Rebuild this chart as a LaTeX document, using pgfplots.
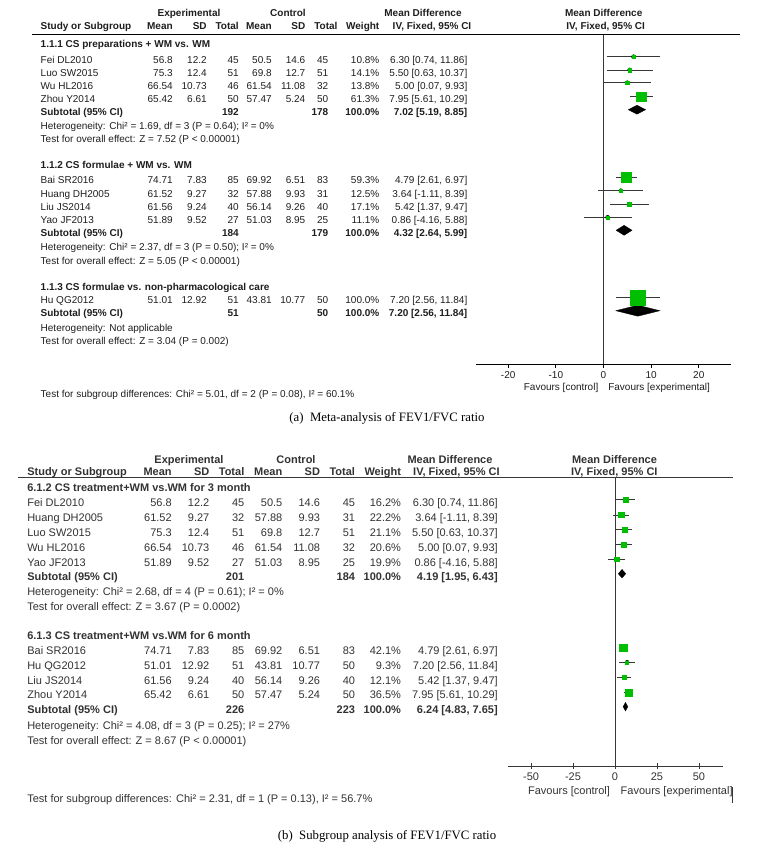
\documentclass[border=0pt]{standalone}
\usepackage{pgfplots}
\pgfplotsset{compat=1.18}
\usepackage{pgfplotstable}
\usepackage{fontspec}
\setmainfont{Liberation Sans}
\newfontfamily\capfont{Liberation Serif}
\definecolor{sqgreen}{RGB}{0,190,0}
\definecolor{txtA}{RGB}{30,30,30}
\definecolor{txtB}{RGB}{50,50,50}
\definecolor{cigray}{RGB}{55,55,55}
\newcommand\TA{\fontsize{10}{12}\selectfont}
\newcommand\TB{\fontsize{11}{13}\selectfont}

\newcommand\rowA[9]{%
  \node[anchor=base west] at (40.7,#1) {#2};
  \node[anchor=base east] at (172.7,#1) {#3};
  \node[anchor=base east] at (206.7,#1) {#4};
  \node[anchor=base east] at (238.7,#1) {#5};
  \node[anchor=base east] at (271.7,#1) {#6};
  \node[anchor=base east] at (305.3,#1) {#7};
  \node[anchor=base east] at (328.3,#1) {#8};
  \node[anchor=base east] at (379.3,#1) {#9};}
\newcommand\ciA[2]{\node[anchor=base east] at (467.3,#1) {#2};}
\newcommand\rowB[9]{%
  \node[anchor=base west] at (27.3,#1) {#2};
  \node[anchor=base east] at (171.7,#1) {#3};
  \node[anchor=base east] at (209.3,#1) {#4};
  \node[anchor=base east] at (244.3,#1) {#5};
  \node[anchor=base east] at (282.3,#1) {#6};
  \node[anchor=base east] at (320,#1) {#7};
  \node[anchor=base east] at (355,#1) {#8};
  \node[anchor=base east] at (401,#1) {#9};}
\newcommand\ciB[2]{\node[anchor=base east] at (497.7,#1) {#2};}

% study rows: y (negative pixel row), mean difference, CI low, CI high, half square side
\pgfplotstableread{
y md lo hi s
-56.7 6.30 0.74 11.86 1.7
-69.9 5.50 0.63 10.37 1.8
-82.7 5.00 0.07 9.93 1.7
-96.5 7.95 5.61 10.29 4.8
-177.3 4.79 2.61 6.97 5.0
-190.7 3.64 -1.11 8.39 1.6
-204.0 5.42 1.37 9.47 1.9
-217.3 0.86 -4.16 5.88 1.5
-297.3 7.20 2.56 11.84 7.4
}\studA
\pgfplotstableread{
y md lo hi s
-499.7 6.30 0.74 11.86 2.4
-515.0 3.64 -1.11 8.39 2.6
-529.3 5.50 0.63 10.37 2.5
-544.3 5.00 0.07 9.93 2.5
-559.3 0.86 -4.16 5.88 2.3
-647.7 4.79 2.61 6.97 3.7
-662.3 7.20 2.56 11.84 1.5
-677.3 5.42 1.37 9.47 2.0
-692.3 7.95 5.61 10.29 3.5
}\studB

\pgfplotsset{
  forest/.style={
    scale only axis, anchor=south west, clip=false,
    axis x line*=bottom, axis y line=none, ytick=\empty,
    /pgf/number format/assume math mode=true,
  },
  cibars/.style={only marks, mark=none,
    error bars/.cd, x dir=both, x explicit, error mark=none,
    error bar style={line width=0.7pt, color=cigray}},
  squares/.style={scatter, only marks, mark=square*,
    scatter/use mapped color={draw=sqgreen, fill=sqgreen},
    visualization depends on={\thisrow{s}\as\sz},
    scatter/@pre marker code/.append style={/tikz/mark size=\sz}},
}

\begin{document}
\begin{tikzpicture}
% ---------- panel (a) plot ----------
\begin{axis}[forest, at={(476.3pt,-364pt)}, width=254.4pt, height=329.3pt,
  xmin=-26.7, xmax=26.7, ymin=-364, ymax=-34.7,
  axis line style={-, line width=0.8pt, draw=black},
  xtick={-20,-10,0,10,20}, tick align=outside, major tick length=4pt,
  xtick style={line width=0.8pt, draw=black},
  xticklabel style={font=\TA, text=txtA}]
\addplot[cigray, line width=0.7pt] coordinates {(0,-34.7) (0,-364)};
\addplot[cibars] table[x=md, y=y, x error plus expr=\thisrow{hi}-\thisrow{md}, x error minus expr=\thisrow{md}-\thisrow{lo}] {\studA};
\addplot[squares] table[x=md, y=y] {\studA};
\addplot[fill=black, draw=black, line width=0.3pt] coordinates {(5.19,-109.7) (7.02,-105.2) (8.85,-109.7) (7.02,-114.2) (5.19,-109.7)};
\addplot[fill=black, draw=black, line width=0.3pt] coordinates {(2.64,-230.3) (4.32,-225.3) (5.99,-230.3) (4.32,-235.3) (2.64,-230.3)};
\addplot[fill=black, draw=black, line width=0.3pt] coordinates {(2.56,-310.7) (7.20,-305.2) (11.84,-310.7) (7.20,-316.2) (2.56,-310.7)};
\end{axis}
% ---------- panel (b) plot ----------
\begin{axis}[forest, at={(507.7pt,-766pt)}, width=215.6pt, height=288.5pt,
  xmin=-63.9, xmax=64.5, ymin=-766, ymax=-477.5,
  axis line style={-, line width=0.8pt, draw=cigray},
  xtick={-50,-25,0,25,50}, tick align=center, major tick length=6pt,
  xtick style={line width=0.8pt, draw=cigray},
  xticklabel style={font=\TB, text=txtB}]
\addplot[cigray, line width=0.7pt] coordinates {(0,-477.5) (0,-766)};
\addplot[cibars] table[x=md, y=y, x error plus expr=\thisrow{hi}-\thisrow{md}, x error minus expr=\thisrow{md}-\thisrow{lo}] {\studB};
\addplot[squares] table[x=md, y=y] {\studB};
\addplot[fill=black, draw=black, line width=0.3pt] coordinates {(1.95,-573.7) (4.19,-569.4) (6.43,-573.7) (4.19,-578.0) (1.95,-573.7)};
\addplot[fill=black, draw=black, line width=0.3pt] coordinates {(4.83,-706.7) (6.24,-702.4) (7.65,-706.7) (6.24,-711.0) (4.83,-706.7)};
\end{axis}

% ---------- text, in pixel rows ----------
\begin{scope}[x=1pt, y=-1pt, every node/.style={inner sep=0pt, outer sep=0pt}]
\path (0,0) rectangle (773,862);
% ===== panel (a) =====
\begin{scope}[every node/.append style={font=\TA, text=txtA}]
\draw[black, line width=0.8pt] (32,34.7) -- (740,34.7);
\begin{scope}[every node/.append style={font=\TA\bfseries}]
\node[anchor=base] at (189,16.3) {Experimental};
\node[anchor=base] at (288,16.3) {Control};
\node[anchor=base] at (423,16.3) {Mean Difference};
\node[anchor=base] at (603.7,16.3) {Mean Difference};
\node[anchor=base west] at (40.7,29.3) {Study or Subgroup};
\node[anchor=base east] at (172.7,29.3) {Mean};
\node[anchor=base east] at (206.7,29.3) {SD};
\node[anchor=base east] at (238.7,29.3) {Total};
\node[anchor=base east] at (271.7,29.3) {Mean};
\node[anchor=base east] at (305.3,29.3) {SD};
\node[anchor=base east] at (337.5,29.3) {Total};
\node[anchor=base east] at (379.3,29.3) {Weight};
\node[anchor=base] at (432,29.3) {IV, Fixed, 95\% CI};
\node[anchor=base] at (605.7,29.3) {IV, Fixed, 95\% CI};
\end{scope}

\node[anchor=base west, font=\TA\bfseries] at (40.7,47.9) {1.1.1 CS preparations + WM vs. WM};
\rowA{63.3}{Fei DL2010}{56.8}{12.2}{45}{50.5}{14.6}{45}{10.8\%}\ciA{63.3}{6.30 [0.74, 11.86]}
\rowA{76.3}{Luo SW2015}{75.3}{12.4}{51}{69.8}{12.7}{51}{14.1\%}\ciA{76.3}{5.50 [0.63, 10.37]}
\rowA{89.3}{Wu HL2016}{66.54}{10.73}{46}{61.54}{11.08}{32}{13.8\%}\ciA{89.3}{5.00 [0.07, 9.93]}
\rowA{102.6}{Zhou Y2014}{65.42}{6.61}{50}{57.47}{5.24}{50}{61.3\%}\ciA{102.6}{7.95 [5.61, 10.29]}
\begin{scope}[every node/.append style={font=\TA\bfseries}]
\rowA{115.6}{Subtotal (95\% CI)}{}{}{192}{}{}{178}{100.0\%}\ciA{115.6}{7.02 [5.19, 8.85]}
\end{scope}
\node[anchor=base west] at (40.7,129.6) {Heterogeneity: Chi² = 1.69, df = 3 (P = 0.64); I² = 0\%};
\node[anchor=base west] at (40.7,142.9) {Test for overall effect: Z = 7.52 (P < 0.00001)};

\node[anchor=base west, font=\TA\bfseries] at (40.7,168.9) {1.1.2 CS formulae + WM vs. WM};
\rowA{183.9}{Bai SR2016}{74.71}{7.83}{85}{69.92}{6.51}{83}{59.3\%}\ciA{183.9}{4.79 [2.61, 6.97]}
\rowA{197.3}{Huang DH2005}{61.52}{9.27}{32}{57.88}{9.93}{31}{12.5\%}\ciA{197.3}{3.64 [-1.11, 8.39]}
\rowA{210.6}{Liu JS2014}{61.56}{9.24}{40}{56.14}{9.26}{40}{17.1\%}\ciA{210.6}{5.42 [1.37, 9.47]}
\rowA{223.9}{Yao JF2013}{51.89}{9.52}{27}{51.03}{8.95}{25}{11.1\%}\ciA{223.9}{0.86 [-4.16, 5.88]}
\begin{scope}[every node/.append style={font=\TA\bfseries}]
\rowA{236.3}{Subtotal (95\% CI)}{}{}{184}{}{}{179}{100.0\%}\ciA{236.3}{4.32 [2.64, 5.99]}
\end{scope}
\node[anchor=base west] at (40.7,250.9) {Heterogeneity: Chi² = 2.37, df = 3 (P = 0.50); I² = 0\%};
\node[anchor=base west] at (40.7,264.6) {Test for overall effect: Z = 5.05 (P < 0.00001)};

\node[anchor=base west, font=\TA\bfseries] at (40.7,290.3) {1.1.3 CS formulae vs. non-pharmacological care};
\rowA{303.9}{Hu QG2012}{51.01}{12.92}{51}{43.81}{10.77}{50}{100.0\%}\ciA{303.9}{7.20 [2.56, 11.84]}
\begin{scope}[every node/.append style={font=\TA\bfseries}]
\rowA{316.9}{Subtotal (95\% CI)}{}{}{51}{}{}{50}{100.0\%}\ciA{316.9}{7.20 [2.56, 11.84]}
\end{scope}
\node[anchor=base west] at (40.7,331.3) {Heterogeneity: Not applicable};
\node[anchor=base west] at (40.7,344.6) {Test for overall effect: Z = 3.04 (P = 0.002)};

\node[anchor=base east] at (598.3,390.9) {Favours [control]};
\node[anchor=base west] at (608.3,390.9) {Favours [experimental]};
\node[anchor=base west] at (40.7,397.6) {Test for subgroup differences: Chi² = 5.01, df = 2 (P = 0.08), I² = 60.1\%};
\end{scope}
\node[anchor=base, font=\capfont\fontsize{12.8}{15}\selectfont] at (387,421) {(a)\ \ Meta-analysis of FEV1/FVC ratio};

% ===== panel (b) =====
\begin{scope}[every node/.append style={font=\TB, text=txtB}]
\draw[cigray, line width=0.8pt] (18.3,477.5) -- (732.7,477.5);
\begin{scope}[every node/.append style={font=\TB\bfseries}]
\node[anchor=base] at (189,463) {Experimental};
\node[anchor=base] at (296,463) {Control};
\node[anchor=base] at (450,463) {Mean Difference};
\node[anchor=base] at (614.5,463) {Mean Difference};
\rowB{475.7}{Study or Subgroup}{Mean}{SD}{Total}{Mean}{SD}{Total}{Weight}
\node[anchor=base] at (456.4,475.7) {IV, Fixed, 95\% CI};
\node[anchor=base] at (614.3,475.7) {IV, Fixed, 95\% CI};
\end{scope}

\node[anchor=base west, font=\TB\bfseries] at (27.3,491) {6.1.2 CS treatment+WM vs.WM for 3 month};
\rowB{506.7}{Fei DL2010}{56.8}{12.2}{45}{50.5}{14.6}{45}{16.2\%}\ciB{506.7}{6.30 [0.74, 11.86]}
\rowB{521.3}{Huang DH2005}{61.52}{9.27}{32}{57.88}{9.93}{31}{22.2\%}\ciB{521.3}{3.64 [-1.11, 8.39]}
\rowB{536.7}{Luo SW2015}{75.3}{12.4}{51}{69.8}{12.7}{51}{21.1\%}\ciB{536.7}{5.50 [0.63, 10.37]}
\rowB{551}{Wu HL2016}{66.54}{10.73}{46}{61.54}{11.08}{32}{20.6\%}\ciB{551}{5.00 [0.07, 9.93]}
\rowB{566}{Yao JF2013}{51.89}{9.52}{27}{51.03}{8.95}{25}{19.9\%}\ciB{566}{0.86 [-4.16, 5.88]}
\begin{scope}[every node/.append style={font=\TB\bfseries}]
\rowB{580}{Subtotal (95\% CI)}{}{}{201}{}{}{184}{100.0\%}\ciB{580}{4.19 [1.95, 6.43]}
\end{scope}
\node[anchor=base west] at (27.3,595.7) {Heterogeneity: Chi² = 2.68, df = 4 (P = 0.61); I² = 0\%};
\node[anchor=base west] at (27.3,610.7) {Test for overall effect: Z = 3.67 (P = 0.0002)};

\node[anchor=base west, font=\TB\bfseries] at (27.3,639) {6.1.3 CS treatment+WM vs.WM for 6 month};
\rowB{654}{Bai SR2016}{74.71}{7.83}{85}{69.92}{6.51}{83}{42.1\%}\ciB{654}{4.79 [2.61, 6.97]}
\rowB{669}{Hu QG2012}{51.01}{12.92}{51}{43.81}{10.77}{50}{9.3\%}\ciB{669}{7.20 [2.56, 11.84]}
\rowB{684.7}{Liu JS2014}{61.56}{9.24}{40}{56.14}{9.26}{40}{12.1\%}\ciB{684.7}{5.42 [1.37, 9.47]}
\rowB{698.3}{Zhou Y2014}{65.42}{6.61}{50}{57.47}{5.24}{50}{36.5\%}\ciB{698.3}{7.95 [5.61, 10.29]}
\begin{scope}[every node/.append style={font=\TB\bfseries}]
\rowB{713}{Subtotal (95\% CI)}{}{}{226}{}{}{223}{100.0\%}\ciB{713}{6.24 [4.83, 7.65]}
\end{scope}
\node[anchor=base west] at (27.3,729) {Heterogeneity: Chi² = 4.08, df = 3 (P = 0.25); I² = 27\%};
\node[anchor=base west] at (27.3,744) {Test for overall effect: Z = 8.67 (P < 0.00001)};

\node[anchor=base east] at (610,794) {Favours [control]};
\node[anchor=base west] at (620.7,794) {Favours [experimental]};
\draw[cigray, line width=0.6pt] (732.7,787) -- (732.7,803);
\node[anchor=base west] at (27.3,802.3) {Test for subgroup differences: Chi² = 2.31, df = 1 (P = 0.13), I² = 56.7\%};
\end{scope}
\node[anchor=base, font=\capfont\fontsize{12.8}{15}\selectfont] at (387,839.3) {(b)\ \ Subgroup analysis of FEV1/FVC ratio};
\end{scope}
\end{tikzpicture}
\end{document}
